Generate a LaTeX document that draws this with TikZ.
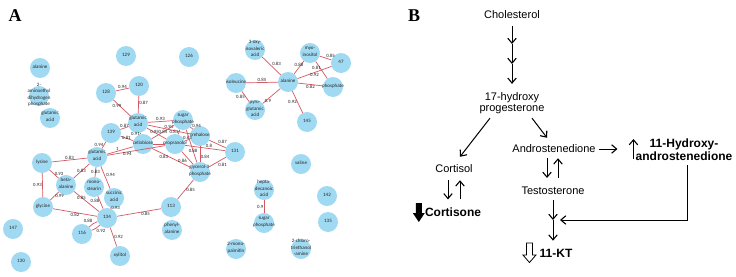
\documentclass[tikz,border=0pt]{standalone}
\usepackage{fontspec}
\setmainfont{Liberation Sans}
\newfontfamily\netfont{Carlito}
\newfontfamily\tagfont{Liberation Serif}
\usepackage{xcolor}
\definecolor{sky}{RGB}{160,217,242}
\definecolor{rose}{RGB}{212,88,100}
\definecolor{ink}{RGB}{35,35,35}
\usepackage{tikz}
\usetikzlibrary{arrows.meta}
\newcommand{\inm}[1]{\makebox[0pt]{\smash{\begin{tabular}{@{}c@{}}#1\end{tabular}}}}

\begin{document}
\begin{tikzpicture}[x=1pt,y=-1pt,
  mol/.style={circle,fill=sky,minimum size=20pt,inner sep=0pt,
              font=\netfont\fontsize{5}{6.3}\selectfont,text=ink},
  lk/.style={draw=rose,line width=0.7pt},
  wt/.style={font=\netfont\fontsize{4.8}{5}\selectfont,inner sep=0.4pt,text=ink},
  tag/.style={font=\tagfont\bfseries\fontsize{18}{18}\selectfont},
  cp/.style={font=\fontsize{11}{11.6}\selectfont,align=center,inner sep=1pt},
  cpb/.style={cp,font=\bfseries\fontsize{12}{13}\selectfont},
  ar/.style={line width=1pt,-{Straight Barb[length=5pt,width=8.5pt,line width=1.1pt]}},
]
  \fill[white] (0,0) rectangle (736,276);
  %% panel A
  \node[tag] (tagA) at (15,16) {A};
  \node[mol] (n129) at (126,56) {\inm{129}};
  \node[mol] (n126) at (189,57) {\inm{126}};
  \node[mol] (alaL) at (40,68) {\inm{alanine}};
  \node[mol] (aeth) at (39,96) {\inm{2-\\aminoethyl\\dihydrogen\\phosphate}};
  \node[mol] (gluL) at (50,118) {\inm{glutamic\\acid}};
  \node[mol] (n128) at (106,93) {\inm{128}};
  \node[mol] (n120) at (139,86) {\inm{120}};
  \node[mol] (gluC) at (138,123) {\inm{glutamic\\acid}};
  \node[mol] (n139) at (111,133) {\inm{139}};
  \node[mol] (sugU) at (183,120) {\inm{sugar\\phosphate}};
  \node[mol] (cello) at (143,144) {\inm{cellobiose}};
  \node[mol] (propr) at (175,144) {\inm{propranolol}};
  \node[mol] (treh) at (200,136) {\inm{trehalose}};
  \node[mol] (n131) at (235,152) {\inm{131}};
  \node[mol] (g3p) at (200,172) {\inm{glycerol-3-\\phosphate}};
  \node[mol] (gluD) at (97,157) {\inm{glutamic\\acid}};
  \node[mol] (lys) at (42,163) {\inm{lysine}};
  \node[mol] (bala) at (66,185) {\inm{beta-\\alanine}};
  \node[mol] (mono) at (94,187) {\inm{mono-\\stearin}};
  \node[mol] (succ) at (114,198) {\inm{succinic\\acid}};
  \node[mol] (gly) at (43,207) {\inm{glycine}};
  \node[mol] (n134) at (107,218) {\inm{134}};
  \node[mol] (n113) at (171,207) {\inm{113}};
  \node[mol] (phe) at (172,230) {\inm{phenyl-\\alanine}};
  \node[mol] (n147) at (13,229) {\inm{147}};
  \node[mol] (n116) at (82,234) {\inm{116}};
  \node[mol] (xyl) at (120,256) {\inm{xylitol}};
  \node[mol] (n130) at (21,262) {\inm{130}};
  \node[mol] (val) at (301,164) {\inm{valine}};
  \node[mol] (hepta) at (264,190) {\inm{hepta-\\decanoic\\acid}};
  \node[mol] (sugL) at (264,223) {\inm{sugar\\phosphate}};
  \node[mol] (n142) at (327,196) {\inm{142}};
  \node[mol] (n135) at (328,222) {\inm{135}};
  \node[mol] (mpal) at (236,249) {\inm{2-mono-\\palmitin}};
  \node[mol] (chlor) at (301,249) {\inm{2-chloro-\\triethanol\\-amine}};
  \node[mol] (oxy) at (255,50) {\inm{3-oxy-\\isovaleric\\acid}};
  \node[mol] (myo) at (310,53) {\inm{myo-\\inositol}};
  \node[mol] (n47) at (341,63) {\inm{47}};
  \node[mol] (alaC) at (288,82) {\inm{alanine}};
  \node[mol] (ile) at (236,83) {\inm{isoleucine}};
  \node[mol] (phos) at (333,87) {\inm{phosphate}};
  \node[mol] (pyro) at (255,110) {\inm{pyro-\\glutamic\\acid}};
  \node[mol] (n145) at (307,122) {\inm{145}};
  % links
  \draw[lk] (oxy) -- node[wt,above right]{0.83} (alaC);
  \draw[lk] (myo) -- node[wt,above]{0.88} (alaC);
  \draw[lk] (myo) -- node[wt,above right]{0.85} (n47);
  \draw[lk] (myo) -- node[wt,above left]{0.81} (phos);
  \draw[lk] (alaC) -- node[wt,below]{0.92} (n47);
  \draw[lk] (alaC) -- node[wt,below]{0.82} (phos);
  \draw[lk] (ile) -- node[wt,above]{0.85} (alaC);
  \draw[lk] (ile) -- node[wt,left]{0.85} (pyro);
  \draw[lk] (alaC) -- node[wt,pos=.7,below]{0.9} (pyro);
  \draw[lk] (alaC) -- node[wt,left]{0.92} (n145);
  \draw[lk] (n128) -- node[wt,above]{0.94} (n120);
  \draw[lk] (n128) -- node[wt,above left]{0.99} (gluC);
  \draw[lk] (n120) -- node[wt,pos=.4,right]{0.87} (gluC);
  \draw[lk] (n139) -- node[wt,above]{0.87} (gluC);
  \draw[lk] (gluC) -- node[wt,above]{0.93} (sugU);
  \draw[lk] (gluC) -- node[wt,above]{0.94} (treh);
  \draw[lk] (gluC) -- node[wt,left]{0.91} (cello);
  \draw[lk] (gluC) -- node[wt,pos=.4]{0.95} (propr);
  \draw[lk] (cello) -- node[wt]{0.84} (sugU);
  \draw[lk] (sugU) -- node[wt,left]{0.81} (propr);
  \draw[lk] (propr) -- node[wt,above]{0.83} (treh);
  \draw[lk] (sugU) -- node[wt,above right]{0.94} (treh);
  \draw[lk] (n139) -- node[wt,pos=.45]{0.81} (cello);
  \draw[lk] (gluD) -- node[wt,left]{0.94} (n139);
  \draw[lk] (gluD) -- node[wt,pos=.4,above]{1} (cello);
  \draw[lk] (gluD) -- node[wt,pos=.35,below]{0.94} (propr);
  \draw[lk] (cello) -- node[wt,pos=.3,below]{0.83} (g3p);
  \draw[lk] (cello) -- (propr);
  \draw[lk] (propr) -- node[wt,below left]{0.86} (g3p);
  \draw[lk] (propr) -- node[wt,pos=.6,above]{0.8} (n131);
  \draw[lk] (sugU) -- node[wt,pos=.65]{0.88} (g3p);
  \draw[lk] (treh) -- node[wt,pos=.7,right]{0.84} (g3p);
  \draw[lk] (treh) -- node[wt,above right]{0.87} (n131);
  \draw[lk] (g3p) -- node[wt,below right]{0.81} (n131);
  \draw[lk] (g3p) -- node[wt,right]{0.85} (n113);
  \draw[lk] (n134) -- node[wt,pos=.65,below]{0.85} (n113);
  \draw[lk] (gluD) -- node[wt,above]{0.83} (lys);
  \draw[lk] (lys) -- node[wt,left]{0.93} (gly);
  \draw[lk] (lys) -- node[wt,right]{0.93} (bala);
  \draw[lk] (gluD) -- node[wt]{0.83} (bala);
  \draw[lk] (gluD) -- node[wt]{0.83} (mono);
  \draw[lk] (gluD) -- node[wt,above right]{0.94} (succ);
  \draw[lk] (gly) -- node[wt,right]{0.99} (bala);
  \draw[lk] (bala) -- node[wt,pos=.3]{0.85} (n134);
  \draw[lk] (mono) -- node[wt,pos=.4,left]{0.88} (n134);
  \draw[lk] (succ) -- node[wt,right]{0.93} (n134);
  \draw[lk] (gly) -- node[wt,below]{0.82} (n134);
  \draw[lk] (n134) to[bend right=12] node[wt,above left]{0.88} (n116);
  \draw[lk] (n134) to[bend left=12] node[wt,below right]{0.92} (n116);
  \draw[lk] (n134) -- node[wt,right]{0.92} (xyl);
  \draw[lk] (hepta) -- node[wt,left]{0.9} (sugL);
  %% panel B
  \node[tag] (tagB) at (414,16) {B};
  \node[cp] (chol) at (512,15) {Cholesterol};
  \node[cp] (hprog) at (512,103) {17-hydroxy\\progesterone};
  \node[cp] (cortisol) at (454,169) {Cortisol};
  \node[cpb] (cortisone) at (453,212) {Cortisone};
  \node[cp] (andro) at (554,149) {Androstenedione};
  \node[cp] (testo) at (553,191) {Testosterone};
  \node[cpb] (oha) at (684,150) {11-Hydroxy-\\androstenedione};
  \node[cpb] (kt) at (556,253) {11-KT};
  \coordinate (s1) at (512,44);
  \coordinate (s2) at (512,64);
  \coordinate (jn) at (553,220);
  \draw[ar,shorten <=6pt] (chol) -- (s1);
  \draw[ar] (s1) -- (s2);
  \draw[ar,shorten >=7pt] (s2) -- (hprog);
  \draw[ar] ([xshift=-22pt,yshift=-3pt]hprog.south) -- ([xshift=6pt,yshift=7pt]cortisol.north);
  \draw[ar] ([xshift=20pt,yshift=-3pt]hprog.south) -- ([xshift=-7pt,yshift=6pt]andro.north);
  \draw[ar] ([xshift=-6pt,yshift=-6pt]cortisol.south) -- ([xshift=-5pt,yshift=7pt]cortisone.north);
  \draw[ar] ([xshift=7pt,yshift=7pt]cortisone.north) -- ([xshift=6pt,yshift=-6pt]cortisol.south);
  \draw[ar] ([xshift=-7pt,yshift=-4pt]andro.south) -- ([xshift=-6pt,yshift=8pt]testo.north);
  \draw[ar] ([xshift=5pt,yshift=8pt]testo.north) -- ([xshift=4pt,yshift=-4pt]andro.south);
  \draw[ar] ([xshift=2pt]andro.east) -- ([xshift=-17pt]andro.east -| oha.west);
  \draw[ar] ([xshift=-1pt,yshift=-9pt]oha.west) -- ([xshift=-1pt,yshift=11pt]oha.west);
  \draw[ar,shorten <=4pt] (testo) -- (jn);
  \draw[ar,shorten >=7pt] (jn) -- (jn |- kt.north);
  \draw[ar] ([xshift=3pt,yshift=-3pt]oha.south) |- ([xshift=7pt]jn);
  % level marks
  \fill[shift={(cortisone.west)}] (-8,-9) -- (-2,-9) -- (-2,1) -- (1,1) -- (-5,10) -- (-11,1) -- (-8,1) -- cycle;
  \draw[line width=0.8pt,shift={(kt.west)}] (-12,-10) -- (-6,-10) -- (-6,2) -- (-2.5,2) -- (-9,9.5) -- (-15.5,2) -- (-12,2) -- cycle;
\end{tikzpicture}
\end{document}
